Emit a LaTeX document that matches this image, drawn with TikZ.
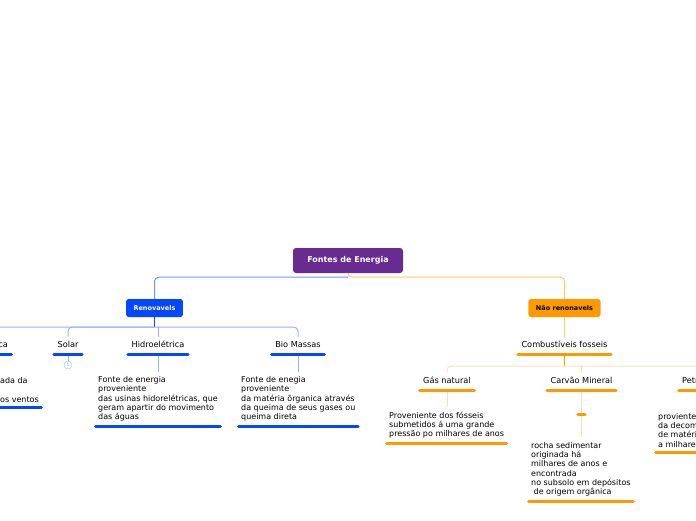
\documentclass[tikz,border=0pt]{standalone}
\usepackage{fontspec}
\setmainfont{DejaVu Sans}
\usetikzlibrary{positioning}

\definecolor{rootpurple}{RGB}{103,43,145}
\definecolor{renovblue}{RGB}{5,70,255}
\definecolor{bluelink}{RGB}{110,148,255}
\definecolor{bluelight}{RGB}{150,178,255}
\definecolor{naoorange}{RGB}{255,153,0}
\definecolor{orangelink}{RGB}{255,200,120}
\definecolor{orangelight}{RGB}{255,222,175}

\tikzset{
  central/.style={fill=rootpurple, text=white, rounded corners=3pt,
    font=\fontsize{8}{9}\selectfont\bfseries, minimum width=110, minimum height=25},
  mainbox/.style={rounded corners=2.5pt, font=\fontsize{6.5}{7}\selectfont\bfseries,
    minimum height=18, inner xsep=7.5, text height=4.8, text depth=0.6},
  topic/.style={font=\fontsize{8.2}{9}\selectfont, inner xsep=5, inner ysep=4.5,
    text height=6, text depth=2},
  note/.style={font=\fontsize{8}{9.3}\selectfont, align=left, inner xsep=4, inner ysep=4.5},
  stub/.style={minimum width=10, minimum height=0, inner sep=0},
  blueline/.style={draw=renovblue, line width=3, line cap=round, shorten <=1.5, shorten >=1.5},
  orangeline/.style={draw=naoorange, line width=3, line cap=round, shorten <=1.5, shorten >=1.5},
  badge/.style={circle, draw=bluelight, fill=white, text=bluelink, inner sep=0,
    minimum size=8, font=\fontsize{4.5}{5}\selectfont}
}

\begin{document}
\begin{tikzpicture}[x=1pt,y=-1pt]
\useasboundingbox (0,0) rectangle (696,520);

% centro
\node[central] (fontes) at (348,260.5) {Fontes de Energia};
\node[mainbox, fill=renovblue, text=white] (renov) at (154.5,308) {Renovavels};
\node[mainbox, fill=naoorange, text=black] (nao) at (564.5,308) {Não renonavels};

\draw[bluelink, line width=1, rounded corners=4] (fontes.south) ++(0,4) -| (renov.north);
\draw[orangelink, line width=1, rounded corners=4] (fontes.south) -- ++(0,4) -| (nao.north);

% renovaveis
\node[topic, anchor=south east] (eolica) at (13,354) {Eólica};
\node[topic, anchor=south] (solar) at (68,354) {Solar};
\node[topic, anchor=south] (hidro) at (158,354) {Hidroelétrica};
\node[topic, anchor=south] (bio) at (298,354) {Bio Massas};

\node[note, anchor=south west] (eolicanota) at (-4,407) {ada da\\~\\os ventos};
\node[badge] (solarnum) at (68,365) {1};
\node[note, anchor=south west] (hidronota) at (94,426) {Fonte de energia\\proveniente\\das usinas hidorelétricas, que\\geram apartir do movimento\\das águas};
\node[note, anchor=south west] (bionota) at (237,426) {Fonte de enegia\\proveniente\\da matéria õrganica através\\da queima de seus gases ou\\queima direta};

\draw[renovblue, line width=1] (renov.south) -- ++(0,10) coordinate (renovbar);
\draw[bluelight, line width=1, rounded corners=4] (eolica.north) |- (renovbar) -| (bio.north);
\draw[bluelight, line width=1, rounded corners=4] (renovbar) -| (solar.north);
\draw[bluelight, line width=1] (hidro.north) -- (hidro.north |- renovbar);

\draw[bluelight, line width=1] (eolica.south) -- (eolica.south |- eolicanota.north);
\draw[bluelight, line width=1] (solar.south) -- (solarnum.north);
\draw[bluelight, line width=1] (hidro.south) -- (hidro.south |- hidronota.north);
\draw[bluelight, line width=1] (bio.south) -- (bio.south |- bionota.north);

\foreach \n in {eolica,solar,hidro,bio,eolicanota,hidronota,bionota}
  \draw[blueline] (\n.south west) -- (\n.south east);

% nao renovaveis
\node[topic, anchor=south] (combust) at (564.5,354) {Combustíveis fosseis};
\node[topic, anchor=south] (gas) at (447,390) {Gás natural};
\node[topic, anchor=south] (carvao) at (581.5,390) {Carvão Mineral};
\node[topic, anchor=south west] (petroleo) at (677,390) {Petróleo};

\node[note, anchor=south west] (gasnota) at (385,443) {Proveniente dos fósseis\\submetidos á uma grande\\pressão po milhares de anos};
\node[stub] (carvaovazio) at (581.5,414) {};
\node[note, anchor=south west] (carvaonota) at (527,501) {rocha sedimentar\\originada há\\milhares de anos e\\encontrada\\no subsolo em depósitos\\\hspace*{2.5pt}de origem orgânica};
\node[note, anchor=south west] (petroleonota) at (654,452) {proviente\\da decomposição\\de matéria orgânica\\a milhares de anos};

\draw[orangelink, line width=1] (nao.south) -- (combust.north);
\draw[naoorange, line width=1] (combust.south) -- ++(0,12) coordinate (combustbar);
\draw[orangelight, line width=1, rounded corners=4] (gas.north) |- (combustbar) -| (petroleo.north);
\draw[orangelight, line width=1] (carvao.north) -- (carvao.north |- combustbar);

\draw[orangelight, line width=1] (gas.south) -- (gas.south |- gasnota.north);
\draw[orangelight, line width=1] (carvao.south) -- (carvaovazio.center);
\draw[orangelight, line width=1] (carvaovazio.center) -- (carvaovazio.center |- carvaonota.north);
\draw[orangelight, line width=1] (petroleo.south) -- (petroleo.south |- petroleonota.north);

\foreach \n in {combust,gas,carvao,petroleo,carvaovazio,gasnota,carvaonota,petroleonota}
  \draw[orangeline] (\n.south west) -- (\n.south east);
\end{tikzpicture}
\end{document}
